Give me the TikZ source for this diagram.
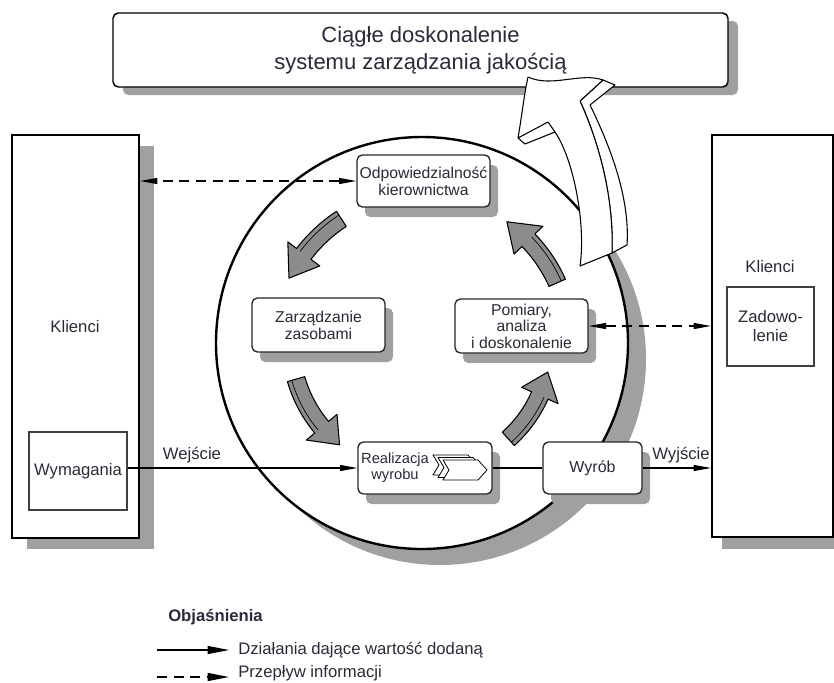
\documentclass[tikz,border=0pt]{standalone}
\usepackage{fontspec}
\setmainfont{Liberation Sans}
\usetikzlibrary{shadows,arrows.meta}
\definecolor{shd}{HTML}{A0A0A0}
\definecolor{txt}{HTML}{2A2A38}
\definecolor{agray}{HTML}{8C8C8C}
\newcommand\grayarrow[3]{%
  \pgfmathsetmacro\gaH{#2-11}%
  \pgfmathsetmacro\gaA{#3-9}%
  \pgfmathsetmacro\gaB{#3+9}%
  \pgfmathsetmacro\gaC{#3-20}%
  \pgfmathsetmacro\gaD{#3+20}%
  \pgfmathsetmacro\gaE{#3+4.5}%
  \filldraw[garrow] plot[domain=-#1:-\gaH,samples=12] (\x:\gaA) -- (-\gaH:\gaC) -- (-#2:#3) -- (-\gaH:\gaD) -- (-\gaH:\gaB) -- plot[domain=-\gaH:-#1,samples=12] (\x:\gaB) -- cycle;
  \draw[line width=0.5pt] plot[domain=-#1:-\gaH,samples=12] (\x:\gaE);
}
\begin{document}
\begin{tikzpicture}[x=0.75pt,y=-0.75pt,
  outer/.style={draw=black, line width=1.5pt, fill=white, inner sep=0pt},
  inbox/.style={draw=black!85, line width=1pt, rounded corners=4pt, fill=white, align=center, inner sep=0pt, font=\fontsize{11.8}{12.6}\selectfont, text=txt},
  sh/.style={drop shadow={shadow xshift=6pt, shadow yshift=-7.5pt, fill=shd, opacity=1}},
  lbl/.style={font=\fontsize{12.5}{14}\selectfont, text=txt},
  conn/.style={line width=0.8pt, -{Triangle[length=13pt,width=4.5pt]}},
  info/.style={line width=0.9pt, dash pattern=on 7.5pt off 5pt, {Triangle[length=13pt,width=4.5pt]}-{Triangle[length=13pt,width=4.5pt]}},
  garrow/.style={fill=agray, draw=black, line width=0.8pt, line join=round}]
\useasboundingbox (0,0) rectangle (834,682);
\clip (0,0) rectangle (834,682);

% top box
\node[outer, line width=1.1pt, rounded corners=4pt, minimum width=461.25pt, minimum height=55.5pt, align=center, font=\fontsize{16.5}{20}\selectfont, text=txt, drop shadow={shadow xshift=7.5pt, shadow yshift=-6pt, fill=shd, opacity=1}] (top) at (420.5,50) {Ciągłe doskonalenie\\systemu zarządzania jakością};

% circle
\node[circle, draw, line width=1.8pt, fill=white, minimum size=309pt, inner sep=0pt, drop shadow={shadow xshift=13.5pt, shadow yshift=-12pt, fill=shd, opacity=1}] (cyc) at (422,343) {};

% customers
\node[outer, minimum width=95.25pt, minimum height=302.25pt, drop shadow={shadow xshift=11.25pt, shadow yshift=-8.25pt, fill=shd, opacity=1}] (kl) at (75.5,336.5) {};
\node[lbl] (kltxt) at (75,327) {Klienci};
\node[draw=black!75, line width=0.8pt, fill=white, minimum width=73.5pt, minimum height=58.5pt, inner sep=0pt, lbl] (wym) at (78,471) {Wymagania};

\node[outer, minimum width=90.75pt, minimum height=301.5pt, drop shadow={shadow xshift=7.5pt, shadow yshift=-9pt, fill=shd, opacity=1}] (ka) at (772.5,336) {};
\node[lbl] (katxt) at (770,267) {Klienci};
\node[draw=black!75, line width=0.8pt, fill=white, minimum width=65.25pt, minimum height=59.25pt, inner sep=0pt, lbl, align=center, font=\fontsize{12.5}{14.25}\selectfont] (zad) at (770.5,326.5) {Zadowo-\\lenie};

% inner boxes
\node[inbox, sh, minimum width=99.75pt, minimum height=39pt] (odp) at (423.5,181) {Odpowiedzialność\\kierownictwa};
\node[inbox, sh, minimum width=99.75pt, minimum height=40.5pt] (zar) at (318.5,325) {Zarządzanie\\zasobami};
\node[inbox, sh, minimum width=99.75pt, minimum height=40.5pt, font=\fontsize{11.8}{12.4}\selectfont] (pom) at (521.5,326) {Pomiary,\\analiza\\i doskonalenie};
\node[inbox, sh, minimum width=100.5pt, minimum height=39pt] (real) at (425,468) {};
\foreach \d in {10,5,0} {
  \filldraw[fill=white, draw=black, line width=0.6pt, line join=round, shift={(-\d,-\d/2)}] (443,460) -- (478,460) -- (487,470) -- (478,480) -- (443,480) -- (449,470) -- cycle;
}
\node[font=\fontsize{11}{12}\selectfont, align=center, text=txt, inner sep=0pt] (realtxt) at (395,468) {Realizacja\\wyrobu};
\node[inbox, sh, minimum width=74.25pt, minimum height=39pt, font=\fontsize{12}{14}\selectfont] (wyr) at (592.5,468) {Wyrób};

% gray cycle arrows
\begin{scope}[shift={(422,343)}]
  \grayarrow{123}{154}{148}
  \grayarrow{196}{231}{131}
  \grayarrow{312}{347}{129}
  \grayarrow{24}{55}{148}
\end{scope}

% big white arrow
\filldraw[fill=white, line width=0.8pt, line join=round] (603,80) -- (615,85) -- (590,105) .. controls (612,150) and (630,200) .. (627,245) -- (612,253) .. controls (614,200) and (600,145) .. (580,101) -- cycle;
\filldraw[fill=white, line width=0.8pt, line join=round] (528,77) .. controls (552,88) and (580,72) .. (603,80) -- (580,101) .. controls (600,145) and (614,200) .. (612,253) -- (580,266) .. controls (586,225) and (574,160) .. (555,132) -- (525,144) -- (518,138) .. controls (522,115) and (524,95) .. (528,77) -- cycle;
\draw[line width=0.8pt, line join=round] (518,138) -- (548,122) -- (555,132);

% connectors
\draw[info] (odp.west) -- (kl.east |- odp.west);
\draw[info] (pom.east) -- (ka.west |- pom.east);
\draw[conn] (wym.east |- real.west) -- (real.west);
\draw[line width=0.8pt] (real.east) -- (wyr.west);
\draw[conn] (wyr.east) -- (ka.west |- wyr.east);
\node[lbl] (wej) at (192,455) {Wejście};
\node[lbl] (wyj) at (681,455) {Wyjście};

% legend
\node[font=\bfseries\fontsize{12.5}{14}\selectfont, text=txt, anchor=west, inner sep=0pt] (obj) at (168,617) {Objaśnienia};
\coordinate (l1a) at (157,650);
\coordinate (l1b) at (229,650);
\draw[line width=0.8pt, -{Triangle[length=16pt,width=6pt]}] (l1a) -- (l1b);
\node[lbl, anchor=west, inner sep=0pt] (leg1) at (238,650) {Działania dające wartość dodaną};
\coordinate (l2a) at (157,677);
\coordinate (l2b) at (229,677);
\draw[line width=0.9pt, dash pattern=on 7.5pt off 5pt, -{Triangle[length=16pt,width=6pt]}] (l2a) -- (l2b);
\node[lbl, anchor=west, inner sep=0pt] (leg2) at (238,673) {Przepływ informacji};
\end{tikzpicture}
\end{document}
